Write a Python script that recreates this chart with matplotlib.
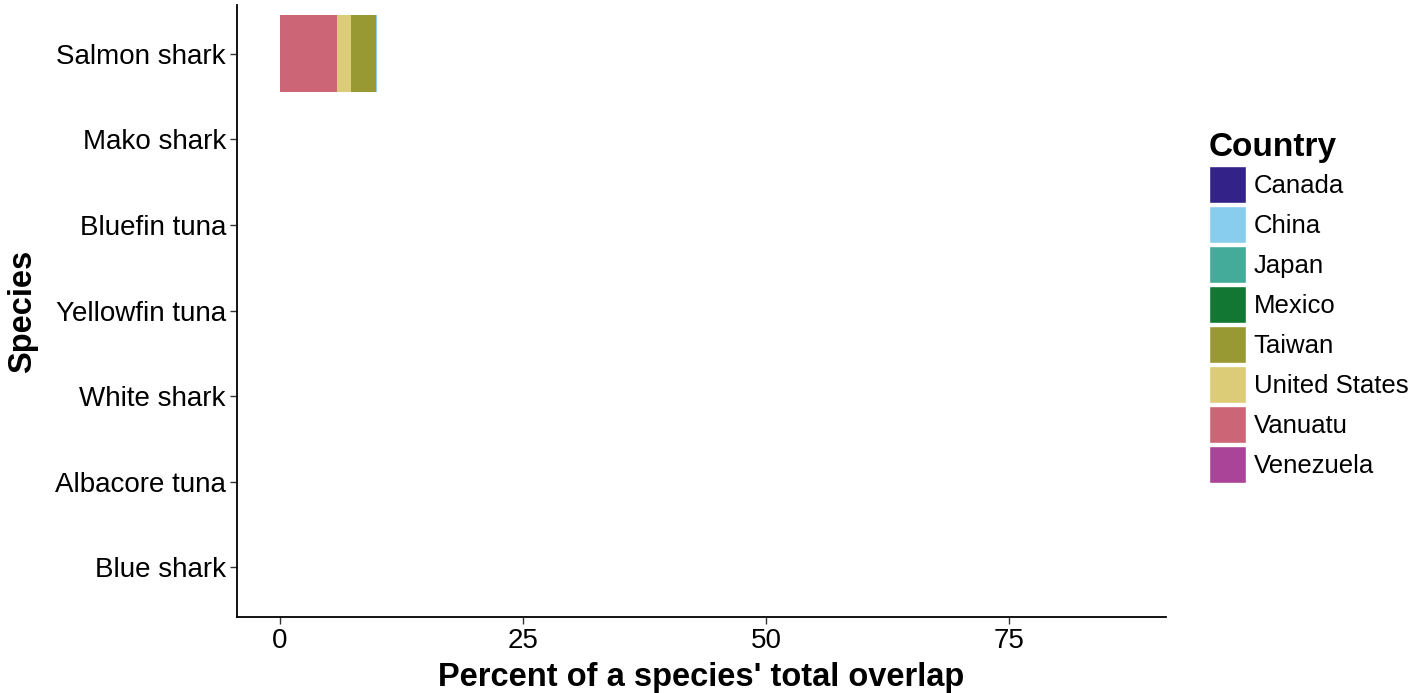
import numpy as np
import matplotlib.pyplot as plt
from matplotlib.patches import Patch

plt.rcParams['font.family'] = ['Liberation Sans', 'DejaVu Sans']

# species, bottom to top
species = ['Blue shark', 'Albacore tuna', 'White shark', 'Yellowfin tuna',
           'Bluefin tuna', 'Mako shark', 'Salmon shark']

countries = ['Canada', 'China', 'Japan', 'Mexico', 'Taiwan',
             'United States', 'Vanuatu', 'Venezuela']
colors = ['#332288', '#88CCEE', '#44AA99', '#117733', '#999933',
          '#DDCC77', '#CC6677', '#AA4499']

# percent of total overlap per species (only salmon shark visible)
canada = [0, 0, 0, 0, 0, 0, 0.0]
china = [0, 0, 0, 0, 0, 0, 0.12]
japan = [0, 0, 0, 0, 0, 0, 0.0]
mexico = [0, 0, 0, 0, 0, 0, 0.0]
taiwan = [0, 0, 0, 0, 0, 0, 2.5]
united_states = [0, 0, 0, 0, 0, 0, 1.45]
vanuatu = [0, 0, 0, 0, 0, 0, 5.9]
venezuela = [0, 0, 0, 0, 0, 0, 0.0]

values = [canada, china, japan, mexico, taiwan, united_states, vanuatu, venezuela]

fig = plt.figure(figsize=(14.08, 6.93), dpi=100)
ax = fig.add_axes([237 / 1408, 1 - 617 / 693, (1166 - 237) / 1408, (617 - 5) / 693])

y = np.arange(1, len(species) + 1)
left = np.zeros(len(species))
# ggplot stacks in reverse factor order
for i in range(len(countries) - 1, -1, -1):
    v = np.array(values[i])
    ax.barh(y, v, left=left, height=0.9, color=colors[i], linewidth=0)
    left += v

ax.set_xlim(-4.42, 91.15)
ax.set_ylim(0.42, 7.57)
ax.set_xticks([0, 25, 50, 75])
ax.set_yticks(y)
ax.set_yticklabels(species)
ax.tick_params(labelsize=20, length=5, width=1, color='#333333', labelcolor='black', pad=3)
for s in ['top', 'right']:
    ax.spines[s].set_visible(False)
for s in ['left', 'bottom']:
    ax.spines[s].set_linewidth(1.3)

ax.set_xlabel("Percent of a species' total overlap", fontsize=23.5, fontweight='bold', labelpad=6)
ax.set_ylabel('Species', fontsize=23.5, fontweight='bold', labelpad=12)

handles = [Patch(facecolor=c, edgecolor='white', linewidth=1) for c in colors]
leg = fig.legend(handles, countries, loc='upper left', bbox_to_anchor=(1199 / 1408, 1 - 122 / 693),
                 frameon=False, fontsize=18.5, title='Country',
                 title_fontproperties={'weight': 'bold', 'size': 24},
                 handlelength=1.44, handleheight=1.84, labelspacing=0.117,
                 handletextpad=0.31, borderaxespad=0, borderpad=0.38)
leg._legend_box.align = 'left'

fig.savefig('out.png', dpi=100)
